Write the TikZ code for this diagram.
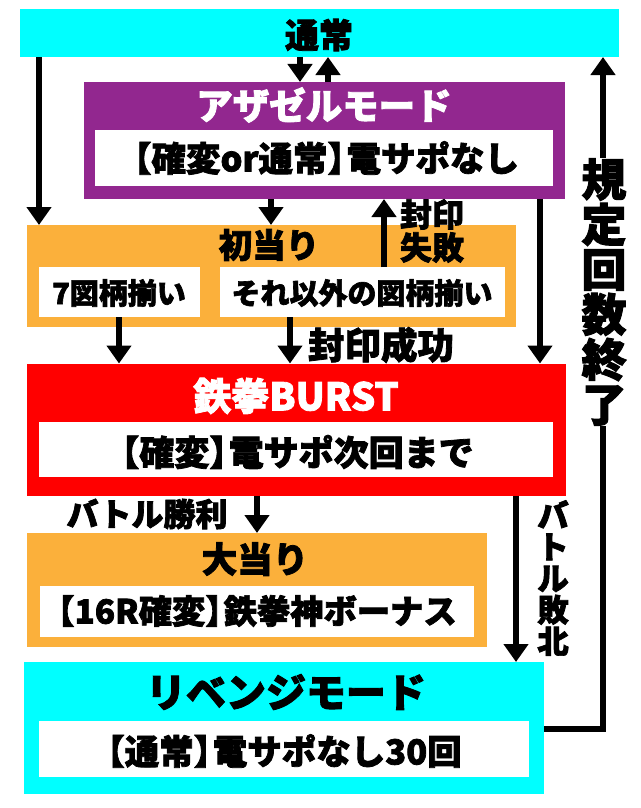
\documentclass[tikz,border=0pt]{standalone}
\usepackage{fontspec}
\setmainfont{Noto Sans CJK JP}[BoldFeatures={FakeBold=2.2}]
\usetikzlibrary{arrows.meta}
\definecolor{cy}{HTML}{00FFFF}
\definecolor{pu}{HTML}{92278F}
\definecolor{og}{HTML}{FBB03B}
\newcommand{\rbk}{】\kern-.45em\relax}
\tikzset{
  x=1pt,y=-1pt,
  panel/.style={draw=none,inner sep=0pt,outer sep=0pt,anchor=north west},
  inset/.style={panel,fill=white},
  lab/.style={inner sep=0pt,outer sep=0pt,anchor=center,font=\bfseries\fontsize{#1}{#1}\selectfont,text=black},
  wlab/.style={lab=#1,text=white},
  stack/.style={lab=#1,align=center},
  arr/.style={line width=6pt,-{Triangle[length=18pt,width=24pt]},black},
}
\begin{document}
\begin{tikzpicture}
\useasboundingbox (0,0) rectangle (640,808);
% panels
\node[panel,fill=cy,minimum width=599pt,minimum height=47.5pt] (top) at (20,9.5) {};
\node[panel,fill=pu,minimum width=481pt,minimum height=117pt] (aza) at (84,82) {};
\node[inset,minimum width=458pt,minimum height=56pt] (azain) at (95,130) {};
\node[panel,fill=og,minimum width=489pt,minimum height=102pt] (first) at (27,225) {};
\node[inset,minimum width=161pt,minimum height=50pt] (seven) at (39,267) {};
\node[inset,minimum width=285pt,minimum height=50pt] (other) at (220,267) {};
\node[panel,fill=red,minimum width=539pt,minimum height=132pt] (burst) at (27,363.5) {};
\node[inset,minimum width=514pt,minimum height=55pt] (burstin) at (39,422) {};
\node[panel,fill=og,minimum width=460pt,minimum height=114pt] (big) at (27,533) {};
\node[inset,minimum width=434pt,minimum height=51pt] (bigin) at (40,586) {};
\node[panel,fill=cy,minimum width=520pt,minimum height=132pt] (rev) at (24,662) {};
\node[inset,minimum width=490pt,minimum height=56pt] (revin) at (39,721) {};
% connector columns
\coordinate (a) at (39,0);
\coordinate (b) at (300,0);
\coordinate (c) at (328,0);
\coordinate (d) at (271,0);
\coordinate (e) at (384,0);
\coordinate (f) at (540,0);
\coordinate (g) at (119,0);
\coordinate (h) at (290,0);
\coordinate (i) at (257,0);
\coordinate (j) at (516,0);
\coordinate (k) at (603,0);
\coordinate (l) at (0,729);
% connectors
\draw[arr] (top.south -| a) -- (first.north -| a);
\draw[arr] (top.south -| b) -- (aza.north -| b);
\draw[arr] (aza.north -| c) -- (top.south -| c);
\draw[arr] (aza.south -| d) -- (first.north -| d);
\draw[arr] (other.north -| e) -- (aza.south -| e);
\draw[arr] (aza.south -| f) -- (burst.north -| f);
\draw[arr] (seven.south -| g) -- (burst.north -| g);
\draw[arr] (other.south -| h) -- (burst.north -| h);
\draw[arr] (burst.south -| i) -- (big.north -| i);
\draw[arr] (burst.south -| j) -- (rev.north -| j);
\draw[arr,line join=miter] (rev.east |- l) -- (k |- l) -- (top.south -| k);
% labels
\node[lab=34] (t1) at (319,35) {通常};
\node[wlab=36.5] (t2) at (324,105) {アザゼルモード};
\node[lab=34.5] (t3) at (318,158) {【確変or通常\rbk 電サポなし};
\node[stack=32] (t4) at (432,231) {封印\\[1pt]失敗};
\node[lab=33.5] (t5) at (269,245) {初当り};
\node[lab=29] (t6) at (119,293) {7図柄揃い};
\node[lab=29] (t7) at (362,293) {それ以外の図柄揃い};
\node[lab=36.5] (t8) at (381,345) {封印成功};
\node[wlab=38] (t9) at (296,396) {鉄拳BURST};
\node[lab=35] (t10) at (289,452) {【確変\rbk 電サポ次回まで};
\node[lab=32] (t11) at (147,514) {バトル勝利};
\node[lab=35.5] (t12) at (255,559) {大当り};
\node[lab=33.3] (t13) at (249,611) {【16R確変\rbk 鉄拳神ボーナス};
\node[lab=40] (t14) at (286,692) {リベンジモード};
\node[lab=34.5] (t15) at (276,751) {【通常\rbk 電サポなし30回};
\node[stack=31.5] (t16) at (553,578) {バ\\ト\\ル\\敗\\北};
\node[stack=45,fill=white] (t17) at (604,292) {規\\定\\回\\数\\終\\了};
\end{tikzpicture}
\end{document}
